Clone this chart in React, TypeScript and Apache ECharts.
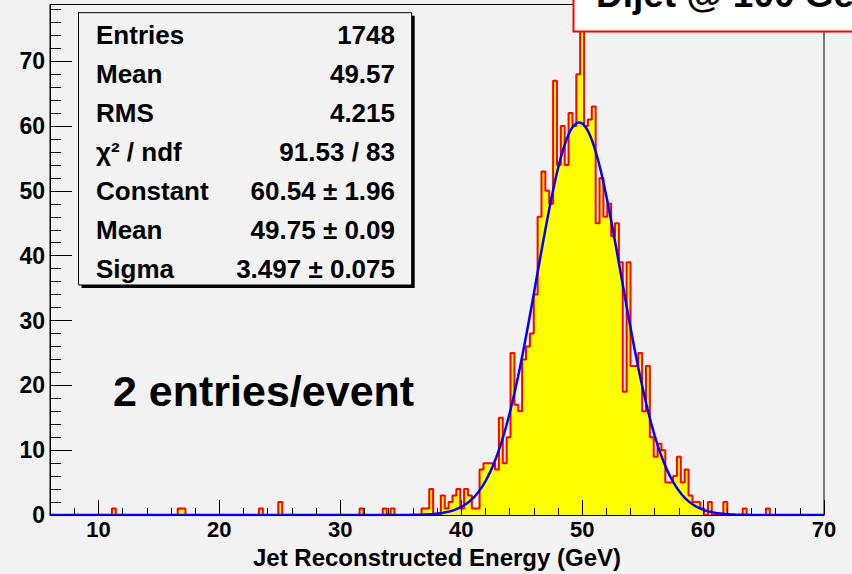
import React, { useEffect, useRef } from 'react';
import * as echarts from 'echarts';

// ---- Histogram definition (200 bins from 6 to 70 GeV) ----
const X_MIN = 6;
const X_MAX = 70;
const BIN_WIDTH = 0.32;
const Y_MAX = 78.75;

// bin contents, 20 bins per row
const counts: number[] = [
  0, 0, 0, 0, 0, 0, 0, 0, 0, 0, 0, 0, 0, 0, 0, 0, 1, 0, 0, 0,
  0, 0, 0, 0, 0, 0, 0, 0, 0, 0, 0, 0, 0, 1, 1, 0, 0, 0, 0, 0,
  0, 0, 0, 0, 0, 0, 0, 0, 0, 0, 0, 0, 0, 0, 1, 0, 0, 0, 0, 2,
  0, 0, 0, 0, 0, 0, 0, 0, 0, 0, 0, 0, 0, 0, 0, 0, 0, 0, 0, 0,
  1, 0, 0, 0, 0, 0, 1, 0, 1, 0, 0, 0, 0, 0, 0, 0, 1, 1, 4, 0,
  0, 3, 1, 2, 3, 4, 1, 4, 3, 1, 1, 7, 8, 8, 8, 7, 15, 8, 12, 25,
  17, 16, 24, 26, 28, 34, 46, 53, 50, 48, 67, 54, 60, 54, 62, 60, 68, 75, 60, 61,
  63, 45, 52, 46, 48, 43, 45, 39, 19, 39, 23, 23, 25, 16, 23, 12, 9, 11, 10, 5,
  5, 6, 9, 5, 7, 3, 2, 2, 1, 0, 2, 0, 0, 0, 2, 0, 0, 0, 0, 1,
  0, 0, 0, 0, 0, 1, 0, 0, 0, 0, 0, 0, 0, 0, 0, 0, 0, 0, 0, 0,
];

// ---- Gaussian fit parameters (from the stats box) ----
const fitConstant = 60.54;
const fitMean = 49.75;
const fitSigma = 3.497;

// ---- Tick labels ----
const xMajorTicks = [10, 20, 30, 40, 50, 60, 70];
const yMajorTicks = [0, 10, 20, 30, 40, 50, 60, 70];

// ---- Texts ----
const statsLabels = ['Entries', 'Mean', 'RMS', 'χ² / ndf', 'Constant', 'Mean', 'Sigma'];
const statsValues = ['1748', '49.57', '4.215', '91.53 / 83', '60.54 ± 1.96', '49.75 ± 0.09', '3.497 ± 0.075'];
const titleText = 'Dijet @ 100 GeV';
const annotationText = '2 entries/event';
const xAxisTitle = 'Jet Reconstructed Energy (GeV)';

const FONT = '"Liberation Sans", Arial, Helvetica, sans-serif';

function buildOption() {
  const histPoints: number[][] = counts.map((c, k) => [X_MIN + k * BIN_WIDTH, c]);
  histPoints.push([X_MAX, counts[counts.length - 1]]);

  const fitPoints: number[][] = [];
  for (let i = 0; i <= 640; i++) {
    const x = X_MIN + i * 0.1;
    const d = (x - fitMean) / fitSigma;
    fitPoints.push([x, fitConstant * Math.exp(-0.5 * d * d)]);
  }

  const statsText: any[] = [];
  statsLabels.forEach((lab, i) => {
    const y = 34.5 + 39 * i;
    statsText.push({
      type: 'text', x: 96, y, z: 102,
      style: { text: lab, font: `bold 26px ${FONT}`, fill: '#000', align: 'left', textAlign: 'left', verticalAlign: 'middle', textVerticalAlign: 'middle' },
    });
    statsText.push({
      type: 'text', x: 395, y, z: 102,
      style: { text: statsValues[i], font: `bold 26px ${FONT}`, fill: '#000', align: 'right', textAlign: 'right', verticalAlign: 'middle', textVerticalAlign: 'middle' },
    });
  });

  return {
    animation: false,
    backgroundColor: '#f2f2f2',
    grid: {
      left: 50, right: 28, top: 4.5, bottom: 56,
      show: true, borderColor: '#000', borderWidth: 1, backgroundColor: 'transparent',
    },
    xAxis: [
      {
        type: 'value', min: X_MIN, max: X_MAX, interval: 2, position: 'bottom', z: 10,
        axisLine: { show: true, lineStyle: { color: '#000', width: 1 } },
        axisTick: { show: true, inside: true, length: 7, lineStyle: { color: '#000', width: 1 } },
        axisLabel: { show: false },
        splitLine: { show: false },
        name: xAxisTitle, nameLocation: 'middle', nameGap: 30,
        nameTextStyle: { fontFamily: FONT, fontWeight: 'bold', fontSize: 24, color: '#000', lineHeight: 24 },
      },
      {
        type: 'value', min: X_MIN, max: X_MAX, position: 'bottom', z: 10,
        axisLine: { show: false },
        axisTick: { show: true, inside: true, length: 15, customValues: xMajorTicks, lineStyle: { color: '#000', width: 1 } },
        axisLabel: { show: true, customValues: xMajorTicks, margin: 3, fontFamily: FONT, fontWeight: 'bold', fontSize: 22, color: '#000', lineHeight: 22 },
        splitLine: { show: false },
      },
    ],
    yAxis: [
      {
        type: 'value', min: 0, max: Y_MAX, interval: 2, position: 'left', z: 10,
        axisLine: { show: true, lineStyle: { color: '#000', width: 1 } },
        axisTick: { show: true, inside: true, length: 11, lineStyle: { color: '#000', width: 1 } },
        axisLabel: { show: false },
        splitLine: { show: false },
      },
      {
        type: 'value', min: 0, max: Y_MAX, position: 'left', z: 10,
        axisLine: { show: false },
        axisTick: { show: true, inside: true, length: 22, customValues: yMajorTicks, lineStyle: { color: '#000', width: 1 } },
        axisLabel: { show: true, customValues: yMajorTicks, margin: 5, fontFamily: FONT, fontWeight: 'bold', fontSize: 23, color: '#000' },
        splitLine: { show: false },
      },
    ],
    series: [
      {
        name: 'histogram', type: 'line', step: 'end', xAxisIndex: 0, yAxisIndex: 0,
        data: histPoints, showSymbol: false, symbol: 'none', z: 3,
        lineStyle: { color: '#ff0000', width: 2 },
        areaStyle: { color: '#ffff00', opacity: 1, origin: 'start' },
      },
      {
        name: 'gaus fit', type: 'line', xAxisIndex: 0, yAxisIndex: 0,
        data: fitPoints, showSymbol: false, symbol: 'none', z: 4,
        lineStyle: { color: '#0000ff', width: 2.5 },
      },
    ],
    graphic: [
      // stats box shadow + box
      { type: 'rect', z: 100, shape: { x: 81.5, y: 15.7, width: 333.2, height: 272.3 }, style: { fill: '#000' } },
      { type: 'rect', z: 101, shape: { x: 78.5, y: 12.7, width: 333.2, height: 272.3 }, style: { fill: '#f2f2f2', stroke: '#000', lineWidth: 1 } },
      ...statsText,
      // annotation
      {
        type: 'text', x: 113, y: 391, z: 100,
        style: { text: annotationText, font: `bold 43px ${FONT}`, fill: '#000', align: 'left', textAlign: 'left', verticalAlign: 'middle', textVerticalAlign: 'middle' },
      },
      // title box
      { type: 'rect', z: 100, shape: { x: 573.5, y: -10, width: 300, height: 41.5 }, style: { fill: '#ffffff', stroke: '#ff0000', lineWidth: 2 } },
      {
        type: 'text', x: 596, y: -6, z: 101,
        style: { text: titleText, font: `bold 37px ${FONT}`, fill: '#000', align: 'left', textAlign: 'left', verticalAlign: 'middle', textVerticalAlign: 'middle' },
      },
    ],
  };
}

export default function App() {
  const ref = useRef<HTMLDivElement>(null);
  useEffect(() => {
    if (!ref.current) return;
    const chart = echarts.init(ref.current, null, { renderer: 'svg' });
    chart.setOption(buildOption() as any);
    return () => chart.dispose();
  }, []);
  return <div ref={ref} style={{ position: 'fixed', left: 0, top: 0, width: 852, height: 574 }} />;
}
